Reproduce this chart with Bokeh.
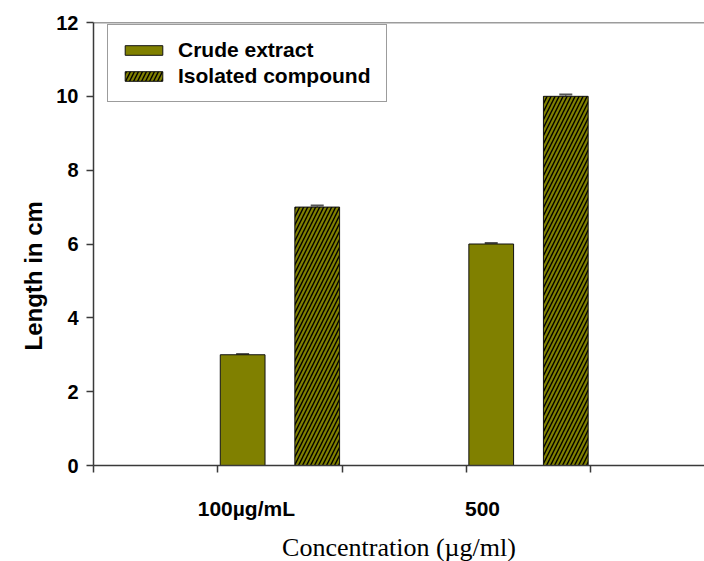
from bokeh.plotting import figure
from bokeh.models import (ColumnDataSource, Range1d, FixedTicker, Span, Title,
                          Legend, LegendItem, Whisker, TeeHead, LinearAxis)
from bokeh.embed import file_html
from bokeh.resources import INLINE

# ---- data ----
categories = ["100\u00b5g/mL", "500"]
series_names = ["Crude extract", "Isolated compound"]
crude = [3.0, 6.0]
isolated = [7.0, 10.0]
crude_err = [0.02, 0.03]
isolated_err = [0.04, 0.05]
y_ticks = [0, 2, 4, 6, 8, 10, 12]
x_title = "Concentration (\u00b5g/ml)"
y_title = "Length in cm"

OLIVE = "#808000"
AXIS = "#3a3a3a"
SANS = "Liberation Sans"
SERIF = "Liberation Serif"

# layout: groups on a numeric axis, one group every 2 units
group_x = [1 + 2 * i for i in range(len(categories))]
bar_w = 0.36
crude_x = [g + 0.2 for g in group_x]
iso_x = [g + 0.8 for g in group_x]

p = figure(width=704, height=561, output_backend="svg", toolbar_location=None,
           x_range=Range1d(0, 4.916), y_range=Range1d(0, 12),
           min_border_left=93, min_border_right=0, min_border_top=22,
           min_border_bottom=96)
p.frame_width = 611
p.frame_height = 443
p.outline_line_color = None
p.grid.visible = False
p.background_fill_color = "white"
p.border_fill_color = "white"

src_c = ColumnDataSource(dict(x=crude_x, top=crude,
                              lo=[v - e for v, e in zip(crude, crude_err)],
                              hi=[v + e for v, e in zip(crude, crude_err)]))
src_i = ColumnDataSource(dict(x=iso_x, top=isolated,
                              lo=[v - e for v, e in zip(isolated, isolated_err)],
                              hi=[v + e for v, e in zip(isolated, isolated_err)]))

r_c = p.vbar(x="x", top="top", bottom=0, width=bar_w, source=src_c,
             fill_color=OLIVE, line_color="#111111", line_width=1)
r_i = p.vbar(x="x", top="top", bottom=0, width=bar_w, source=src_i,
             fill_color=OLIVE, line_color="#111111", line_width=1,
             hatch_pattern="/", hatch_color="black", hatch_scale=8, hatch_weight=1.4)

for src in (src_c, src_i):
    w = Whisker(base="x", lower="lo", upper="hi", source=src,
                line_color="#555555", line_width=1,
                upper_head=TeeHead(size=13, line_color="#555555", line_width=2),
                lower_head=TeeHead(size=13, line_color="#555555", line_width=2))
    p.add_layout(w)

# top border line
p.add_layout(Span(location=12, dimension="width", line_color=AXIS, line_width=1.5))

# axes
for ax in (p.xaxis[0], p.yaxis[0]):
    ax.axis_line_color = AXIS
    ax.axis_line_width = 1.5
    ax.major_tick_line_color = AXIS
    ax.major_tick_line_width = 1.5
    ax.major_tick_out = 7
    ax.major_tick_in = 0
    ax.minor_tick_line_color = None

p.xaxis.ticker = FixedTicker(ticks=[0, 1, 2, 3, 4])
p.xaxis.major_label_overrides = {t: "" for t in [0, 1, 2, 3, 4]}
p.xaxis.major_label_standoff = 0

p.yaxis.ticker = FixedTicker(ticks=y_ticks)
p.yaxis.major_label_text_font = SANS
p.yaxis.major_label_text_font_style = "bold"
p.yaxis.major_label_text_font_size = "20px"
p.yaxis.major_label_text_color = "black"
p.yaxis.major_label_standoff = 8

# category labels on a second (tick-less) axis below
cat_ticks = [1.23, 3.13]
cat_axis = LinearAxis(ticker=FixedTicker(ticks=cat_ticks),
                      major_label_overrides={t: c for t, c in zip(cat_ticks, categories)})
cat_axis.axis_line_color = None
cat_axis.major_tick_line_color = None
cat_axis.minor_tick_line_color = None
cat_axis.major_label_text_font = SANS
cat_axis.major_label_text_font_style = "bold"
cat_axis.major_label_text_font_size = "21px"
cat_axis.major_label_text_color = "black"
cat_axis.major_label_standoff = 18
cat_axis.axis_label = x_title
cat_axis.axis_label_text_font = SERIF
cat_axis.axis_label_text_font_style = "normal"
cat_axis.axis_label_text_font_size = "26px"
cat_axis.axis_label_text_color = "black"
cat_axis.axis_label_standoff = 10
p.add_layout(cat_axis, "below")

# y title, placed lower than centre like the reference
p.add_layout(Title(text=y_title, align="left", offset=115, text_font=SANS,
                   text_font_style="bold", text_font_size="24px",
                   text_color="black", standoff=14), "left")

legend = Legend(items=[LegendItem(label=series_names[0], renderers=[r_c]),
                       LegendItem(label=series_names[1], renderers=[r_i])],
                location=(14, 443 - 4 - 76))
legend.padding = 12
legend.margin = 0
legend.spacing = 0
legend.glyph_width = 47
legend.glyph_height = 12
legend.label_height = 26
legend.label_width = 196
legend.label_standoff = 11
legend.label_text_font = SANS
legend.label_text_font_style = "bold"
legend.label_text_font_size = "21px"
legend.label_text_color = "black"
legend.border_line_color = AXIS
legend.border_line_width = 1.5
legend.background_fill_color = "white"
legend.background_fill_alpha = 1
p.add_layout(legend, "center")

open("out.html", "w").write(file_html(p, INLINE))
